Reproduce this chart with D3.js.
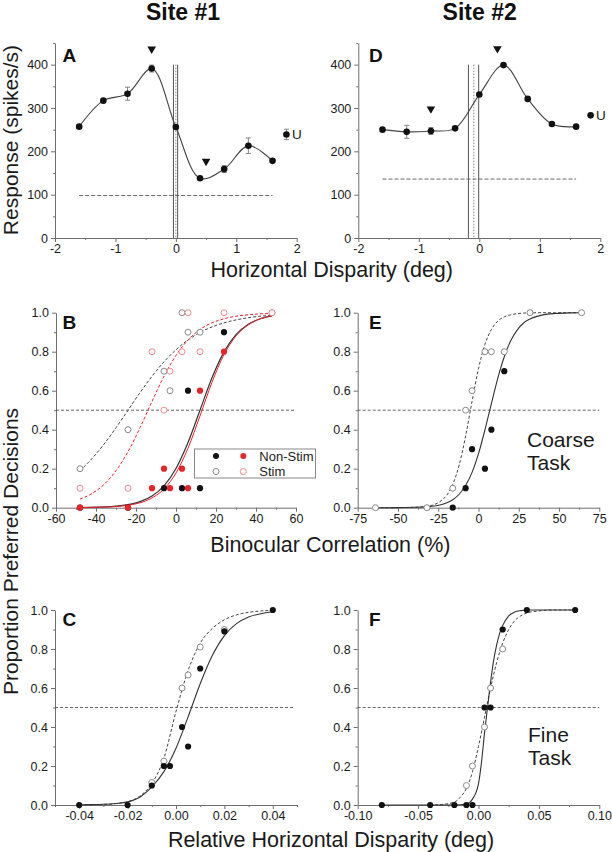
<!DOCTYPE html>
<html><head><meta charset="utf-8">
<script src="https://cdn.jsdelivr.net/npm/d3@7"></script>
<style>body{margin:0;background:#fff}svg{display:block}text{font-family:"Liberation Sans",Arial,sans-serif}</style>
</head><body>
<script>
// ---------- Data ----------
const dispX = [-1.6,-1.2,-0.8,-0.4,0,0.4,0.8,1.2,1.6];
const site1Resp = [257,317,333,391,256,138,159,213,178];
const site1Err  = [0,0,15,8,0,0,8,18,0];
const site1Unc  = [1.83,239,12];      // x, response, err
const site1Base = 98;
const site1Tri  = [[-0.4,436],[0.5,177]];
const site1VLines = [-0.04,0.03];
const site1VDot = [0];
const site2Resp = [250,245,247,253,331,399,321,263,257];
const site2Err  = [0,15,8,0,0,0,0,0,0];
const site2Unc  = [1.84,283,0];
const site2Base = 136;
const site2Tri  = [[-0.8,298],[0.3,437]];
const site2VLines = [-0.18,-0.01];
const site2VDot = [-0.09];

const dispTicks=[-2,-1,0,1,2], dispMinor=[-1.5,-0.5,0.5,1.5];
const respTicks=[0,100,200,300,400], respMinor=[50,150,250,350,450];
const propTicks=[0,0.2,0.4,0.6,0.8,1.0], propMinor=[0.1,0.3,0.5,0.7,0.9];
const corrTicksB=[-60,-40,-20,0,20,40,60], corrMinorB=[-50,-30,-10,10,30,50];
const corrTicksE=[-75,-50,-25,0,25,50,75], corrMinorE=[-62.5,-37.5,-12.5,12.5,37.5,62.5];
const relTicksC=[-0.04,-0.02,0,0.02,0.04], relMinorC=[-0.05,-0.03,-0.01,0.01,0.03,0.05];
const relTicksF=[-0.10,-0.05,0,0.05,0.10], relMinorF=[-0.075,-0.025,0.025,0.075];

// Panel B (site 1, coarse)
const bNonStimBlackX=[-48,-24,-6,3,12,6,24], bNonStimBlackY=[0,0,0.1,0.1,0.1,0.6,0.9];
const bNonStimRedX=[-48,-24,-12,-6,-3,3,6,12,24], bNonStimRedY=[0,0,0.1,0.2,0.1,0.2,0.1,0.6,0.8];
const bStimBlackX=[-48,-24,-6,-3,3,6,12,48], bStimBlackY=[0.2,0.4,0.7,0.6,1.0,0.9,0.9,1.0];
const bStimRedX=[-48,-24,-12,-6,-3,3,6,12,24,48], bStimRedY=[0.1,0.1,0.8,0.5,0.7,0.8,1.0,0.8,1.0,1.0];
const bFitX=[-48,-42,-36,-30,-24,-18,-12,-6,0,6,12,18,24,30,36,42,48];
const bFitNonStimBlack=[0.001,0.002,0.004,0.008,0.016,0.031,0.060,0.112,0.201,0.334,0.5,0.666,0.799,0.888,0.940,0.969,0.984];
const bFitNonStimRed=[0.001,0.002,0.003,0.006,0.013,0.025,0.050,0.096,0.178,0.305,0.471,0.643,0.785,0.881,0.937,0.968,0.984];
const bFitStimBlack=[0.190,0.252,0.326,0.410,0.5,0.590,0.674,0.748,0.810,0.860,0.899,0.927,0.948,0.963,0.974,0.982,0.987];
const bFitStimRed=[0.044,0.073,0.119,0.190,0.287,0.410,0.545,0.674,0.781,0.860,0.914,0.948,0.969,0.982,0.989,0.994,0.996];

// Panel E (site 2, coarse)
const eNonStimX=[-16,-8,-4,4,8,16], eNonStimY=[0,0.1,0.3,0.2,0.4,0.7];
const eStimX=[-64,-32,-16,-8,-4,4,8,16,32,64], eStimY=[0,0,0.1,0.5,0.6,0.8,0.8,0.8,1.0,1.0];
const eFitX=[-64,-56,-48,-40,-32,-24,-20,-16,-12,-8,-4,0,4,8,12,16,20,24,28,32,40,48,56,64];
const eFitNonStim=[0,0,0.001,0.002,0.005,0.014,0.024,0.041,0.069,0.114,0.181,0.277,0.399,0.534,0.665,0.774,0.856,0.911,0.947,0.968,0.989,0.996,0.999,1.0];
const eFitStim=[0,0,0,0.002,0.007,0.031,0.061,0.119,0.219,0.367,0.545,0.713,0.837,0.914,0.957,0.979,0.989,0.995,0.998,0.999,1,1,1,1];

// Panel C (site 1, fine)
const cNonStimX=[-0.04,-0.02,-0.01,-0.005,-0.0025,0.0025,0.005,0.01,0.02,0.04], cNonStimY=[0,0,0.1,0.2,0.2,0.4,0.3,0.7,0.89,1.0];
const cStimX=[-0.01,-0.005,0.0025,0.005,0.01,0.02], cStimY=[0.115,0.225,0.6,0.667,0.81,0.9];
const cFitX=[-0.04,-0.035,-0.03,-0.025,-0.02,-0.015,-0.01,-0.005,0,0.005,0.01,0.015,0.02,0.025,0.03,0.035,0.04];
const cFitNonStim=[0.001,0.002,0.004,0.008,0.016,0.040,0.093,0.171,0.291,0.452,0.622,0.767,0.869,0.930,0.964,0.981,0.991];
const cFitStim=[0.0,0.001,0.003,0.007,0.016,0.045,0.11,0.24,0.48,0.69,0.83,0.905,0.95,0.975,0.988,0.995,0.998];

// Panel F (site 2, fine)
const fNonStimX=[-0.08,-0.04,-0.02,-0.01,-0.005,0.005,0.01,0.02,0.04,0.08], fNonStimY=[0,0,0,0,0,0.5,0.5,0.9,1,1];
const fStimX=[-0.01,-0.005,0.005,0.01,0.02], fStimY=[0.1,0.2,0.4,0.6,0.8];
const fFitNonStimX=[-0.08,-0.04,-0.02,-0.01,-0.005,0,0.0025,0.005,0.0075,0.01,0.0125,0.015,0.0175,0.02,0.025,0.03,0.035,0.04,0.08];
const fFitNonStim=[0,0,0,0.005,0.03,0.11,0.22,0.37,0.5,0.63,0.74,0.82,0.88,0.92,0.97,0.99,0.997,1,1];
const fFitStimX=[-0.04,-0.03,-0.02,-0.015,-0.01,-0.005,0,0.005,0.01,0.015,0.02,0.025,0.03,0.035,0.04,0.05,0.06,0.08];
const fFitStim=[0,0.003,0.015,0.04,0.085,0.17,0.3,0.45,0.6,0.73,0.83,0.9,0.945,0.97,0.985,0.995,1,1];

// ---------- Drawing ----------
const svg = d3.select("body").append("svg").attr("width",612).attr("height",852);
const AX="#6e6e6e", TXT="#1a1a1a", RED="#e8232a", PINK="#f08a8c", GRAY="#8a8a8a";
const fix = s => s.replace("\u2212","-");

function panel(o){
  const x=d3.scaleLinear().domain(o.xd).range(o.xr);
  const y=d3.scaleLinear().domain(o.yd).range(o.yr);
  const g=svg.append("g");
  const yb=o.yr[0], xl=o.xr[0];
  const style=(sel)=>{
    sel.select(".domain").attr("stroke",AX).attr("stroke-width",1);
    sel.selectAll(".tick line").attr("stroke",AX).attr("stroke-width",1);
    sel.selectAll(".tick text").attr("fill",TXT).attr("font-size","12.5px").attr("font-family","Liberation Sans, Arial, sans-serif");
  };
  g.append("g").attr("transform",`translate(0,${yb})`)
    .call(d3.axisBottom(x).tickValues(o.xt).tickSize(4).tickSizeOuter(0).tickPadding(2.5).tickFormat(d=>fix(o.xf(d)))).call(style);
  g.append("g").attr("transform",`translate(0,${yb})`)
    .call(d3.axisBottom(x).tickValues(o.xm).tickSize(2).tickSizeOuter(0).tickFormat("")).call(style).select(".domain").remove();
  g.append("g").attr("transform",`translate(${xl},0)`)
    .call(d3.axisLeft(y).tickValues(o.yt).tickSize(4).tickSizeOuter(0).tickPadding(3).tickFormat(d=>fix(o.yf(d)))).call(style);
  g.append("g").attr("transform",`translate(${xl},0)`)
    .call(d3.axisLeft(y).tickValues(o.ym).tickSize(2).tickSizeOuter(0).tickFormat("")).call(style).select(".domain").remove();
  g.append("text").attr("x",o.lx).attr("y",o.ly).attr("font-size","19px").attr("font-weight","bold").attr("fill","#111").text(o.label);
  return {g,x,y};
}

const fInt=d=>String(d), f1=d3.format(".1f"), f2=d3.format(".2f");

function tuning(p, resp, err, unc, base, tri, vl, vd){
  const {g,x,y}=p;
  g.append("line").attr("x1",x(dispX[0])).attr("x2",x(dispX[dispX.length-1])).attr("y1",y(base)).attr("y2",y(base))
    .attr("stroke","#555").attr("stroke-width",0.9).attr("stroke-dasharray","4,2");
  vl.forEach(v=>g.append("line").attr("x1",x(v)).attr("x2",x(v)).attr("y1",y(400)).attr("y2",y(0)).attr("stroke","#555").attr("stroke-width",1));
  vd.forEach(v=>g.append("line").attr("x1",x(v)).attr("x2",x(v)).attr("y1",y(400)).attr("y2",y(0)).attr("stroke","#777").attr("stroke-width",0.9).attr("stroke-dasharray","1.5,1.5"));
  const pts=dispX.map((d,i)=>[d,resp[i]]);
  g.append("path").attr("d",d3.line().x(d=>x(d[0])).y(d=>y(d[1])).curve(d3.curveCatmullRom.alpha(0.5))(pts))
    .attr("fill","none").attr("stroke","#444").attr("stroke-width",1.1);
  const eb=(cx,v,e)=>{ if(!e) return;
    g.append("line").attr("x1",x(cx)).attr("x2",x(cx)).attr("y1",y(v-e)).attr("y2",y(v+e)).attr("stroke","#777").attr("stroke-width",0.9);
    [v-e,v+e].forEach(t=>g.append("line").attr("x1",x(cx)-2.5).attr("x2",x(cx)+2.5).attr("y1",y(t)).attr("y2",y(t)).attr("stroke","#777").attr("stroke-width",0.9));
  };
  pts.forEach((d,i)=>eb(d[0],d[1],err[i]));
  eb(unc[0],unc[1],unc[2]);
  g.selectAll(null).data(pts).enter().append("circle").attr("cx",d=>x(d[0])).attr("cy",d=>y(d[1])).attr("r",3.3).attr("fill","#111");
  g.append("circle").attr("cx",x(unc[0])).attr("cy",y(unc[1])).attr("r",3.3).attr("fill","#111");
  g.append("text").attr("x",x(unc[0])+5.5).attr("y",y(unc[1])+4.8).attr("font-size","13.5px").attr("fill",TXT).text("U");
  tri.forEach(t=>g.append("path").attr("d",d3.symbol(d3.symbolTriangle,32)()).attr("transform",`translate(${x(t[0])},${y(t[1])}) rotate(180)`).attr("fill","#111"));
}

function curve(p, xs, ys, color, dashed, w){
  const {g,x,y}=p;
  g.append("path").attr("d",d3.line().x(d=>x(d[0])).y(d=>y(d[1])).curve(d3.curveMonotoneX)(xs.map((d,i)=>[d,ys[i]])))
    .attr("fill","none").attr("stroke",color).attr("stroke-width",w||1.1).attr("stroke-dasharray",dashed?"3,2":null);
}
function dots(p, xs, ys, fill, stroke, r){
  const {g,x,y}=p;
  g.selectAll(null).data(xs.map((d,i)=>[d,ys[i]])).enter().append("circle")
    .attr("cx",d=>x(d[0])).attr("cy",d=>y(d[1])).attr("r",r||3)
    .attr("fill",fill).attr("stroke",stroke||"none").attr("stroke-width",stroke?1:0);
}
function half(p){
  const {g,x,y}=p;
  g.append("line").attr("x1",x.range()[0]).attr("x2",x.range()[1]).attr("y1",y(0.5)).attr("y2",y(0.5))
    .attr("stroke","#555").attr("stroke-width",0.9).attr("stroke-dasharray","3,2");
}

// Panel A
const pA=panel({xd:[-2,2],xr:[55,296.7],yd:[0,450],yr:[238,43],xt:dispTicks,xm:dispMinor,yt:respTicks,ym:respMinor,xf:fInt,yf:fInt,label:"A",lx:62.5,ly:62});
tuning(pA,site1Resp,site1Err,site1Unc,site1Base,site1Tri,site1VLines,site1VDot);
// Panel D
const pD=panel({xd:[-2,2],xr:[358.3,600.3],yd:[0,450],yr:[238,43],xt:dispTicks,xm:dispMinor,yt:respTicks,ym:respMinor,xf:fInt,yf:fInt,label:"D",lx:369,ly:62});
tuning(pD,site2Resp,site2Err,site2Unc,site2Base,site2Tri,site2VLines,site2VDot);

// Panel B
const pB=panel({xd:[-60,60],xr:[56,296],yd:[0,1],yr:[507.7,312.7],xt:corrTicksB,xm:corrMinorB,yt:propTicks,ym:propMinor,xf:fInt,yf:f1,label:"B",lx:62.5,ly:328.5});
half(pB);
curve(pB,bFitX,bFitStimBlack,"#444",true,1);
curve(pB,bFitX,bFitStimRed,RED,true,1);
curve(pB,bFitX,bFitNonStimBlack,"#333",false,1.2);
curve(pB,bFitX,bFitNonStimRed,RED,false,1);
dots(pB,bStimBlackX,bStimBlackY,"white",GRAY,3);
dots(pB,bStimRedX,bStimRedY,"white",PINK,3);
dots(pB,bNonStimBlackX,bNonStimBlackY,"#111",null,3.1);
dots(pB,bNonStimRedX,bNonStimRedY,RED,null,3.1);
// legend
{
  const g=pB.g;
  g.append("rect").attr("x",194.5).attr("y",449).attr("width",121).attr("height",29).attr("fill","white").attr("stroke","#888").attr("stroke-width",1);
  g.append("circle").attr("cx",216).attr("cy",456).attr("r",3).attr("fill","#111");
  g.append("circle").attr("cx",243.3).attr("cy",456).attr("r",3).attr("fill",RED);
  g.append("circle").attr("cx",216).attr("cy",471.5).attr("r",3).attr("fill","white").attr("stroke",GRAY);
  g.append("circle").attr("cx",243.3).attr("cy",471.5).attr("r",3).attr("fill","white").attr("stroke",PINK);
  g.append("text").attr("x",259.3).attr("y",460.5).attr("font-size","13px").attr("fill",TXT).text("Non-Stim");
  g.append("text").attr("x",259.3).attr("y",476).attr("font-size","13px").attr("fill",TXT).text("Stim");
}

// Panel E
const pE=panel({xd:[-75,75],xr:[357.7,599.3],yd:[0,1],yr:[507.7,312.7],xt:corrTicksE,xm:corrMinorE,yt:propTicks,ym:propMinor,xf:fInt,yf:f1,label:"E",lx:369,ly:328.5});
half(pE);
curve(pE,eFitX,eFitStim,"#444",true,1);
curve(pE,eFitX,eFitNonStim,"#333",false,1.1);
dots(pE,eStimX,eStimY,"white",GRAY,3);
dots(pE,eNonStimX,eNonStimY,"#111",null,3.1);
pE.g.append("text").attr("x",527).attr("y",446.7).attr("font-size","21px").attr("fill",TXT).text("Coarse");
pE.g.append("text").attr("x",527).attr("y",470).attr("font-size","21px").attr("fill",TXT).text("Task");

// Panel C
const pC=panel({xd:[-0.05,0.05],xr:[55,297],yd:[0,1],yr:[805,610],xt:relTicksC,xm:relMinorC,yt:propTicks,ym:propMinor,xf:f2,yf:f1,label:"C",lx:62.5,ly:626});
pC.g.append("line").attr("x1",55).attr("x2",pC.x(0.049)).attr("y1",pC.y(0.5)).attr("y2",pC.y(0.5)).attr("stroke","#555").attr("stroke-width",0.9).attr("stroke-dasharray","3,2");
curve(pC,cFitX,cFitStim,"#444",true,1);
curve(pC,cFitX,cFitNonStim,"#333",false,1.1);
dots(pC,cStimX,cStimY,"white",GRAY,3);
dots(pC,cNonStimX,cNonStimY,"#111",null,3.1);

// Panel F
const pF=panel({xd:[-0.1,0.1],xr:[357.7,599.3],yd:[0,1],yr:[805,610],xt:relTicksF,xm:relMinorF,yt:propTicks,ym:propMinor,xf:f2,yf:f1,label:"F",lx:369,ly:626});
half(pF);
curve(pF,fFitStimX,fFitStim,"#444",true,1);
curve(pF,fFitNonStimX,fFitNonStim,"#333",false,1.1);
dots(pF,fStimX,fStimY,"white",GRAY,3);
dots(pF,fNonStimX,fNonStimY,"#111",null,3.1);
pF.g.append("text").attr("x",528).attr("y",741.7).attr("font-size","21px").attr("fill",TXT).text("Fine");
pF.g.append("text").attr("x",528).attr("y",765).attr("font-size","21px").attr("fill",TXT).text("Task");

// Titles
svg.append("text").attr("x",183).attr("y",20).attr("text-anchor","middle").attr("font-size","23px").attr("font-weight","bold").attr("fill","#111").text("Site #1");
svg.append("text").attr("x",479.7).attr("y",20).attr("text-anchor","middle").attr("font-size","23px").attr("font-weight","bold").attr("fill","#111").text("Site #2");
const tsz="21.5px";
svg.append("text").attr("x",331.7).attr("y",277).attr("text-anchor","middle").attr("font-size",tsz).attr("fill",TXT).text("Horizontal Disparity (deg)");
svg.append("text").attr("x",330.4).attr("y",551.7).attr("text-anchor","middle").attr("font-size",tsz).attr("fill",TXT).text("Binocular Correlation (%)");
svg.append("text").attr("x",331).attr("y",846.5).attr("text-anchor","middle").attr("font-size",tsz).attr("fill",TXT).text("Relative Horizontal Disparity (deg)");
svg.append("text").attr("transform","translate(18,140) rotate(-90)").attr("text-anchor","middle").attr("font-size","21px").attr("fill",TXT).text("Response (spikes/s)");
svg.append("text").attr("transform","translate(18,551.5) rotate(-90)").attr("text-anchor","middle").attr("font-size","21px").attr("fill",TXT).text("Proportion Preferred Decisions");
</script>
</body></html>
